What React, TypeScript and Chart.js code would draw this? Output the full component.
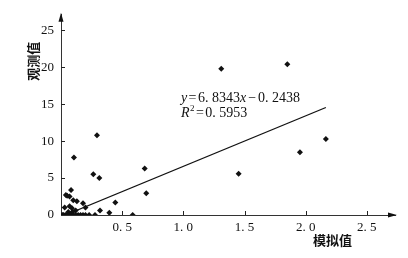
import React, { useEffect, useRef } from "react";
import { Chart, registerables } from "chart.js";

Chart.register(...registerables);

const simX = [
  1.85, 1.31, 2.165, 1.953, 0.684, 0.697, 1.452, 0.106, 0.294, 0.264, 0.313,
  0.444, 0.395, 0.319, 0.278, 0.586, 0.082, 0.05, 0.07, 0.04, 0.1, 0.13, 0.18,
  0.2, 0.03, 0.09, 0.07, 0.095, 0.06, 0.12, 0.01, 0.02, 0.035, 0.05, 0.065,
  0.08, 0.1, 0.12, 0.14, 0.16, 0.18, 0.2, 0.23,
];
const obsY = [
  20.4, 19.8, 10.3, 8.5, 6.3, 2.95, 5.6, 7.8, 10.8, 5.5, 5.0, 1.7, 0.3, 0.6, 0,
  0, 3.4, 2.6, 2.5, 2.7, 2.0, 1.85, 1.6, 1.0, 1.0, 0.9, 1.2, 0.45, 0.4, 0.6, 0,
  0, 0, 0, 0, 0, 0, 0, 0, 0, 0, 0, 0,
];
const slope = 6.8343;
const intercept = -0.2438;
const fitX = [0.036, 2.165];
const xTicks = [0.5, 1.0, 1.5, 2.0, 2.5];
const yTicks = [0, 5, 10, 15, 20, 25];
const xTitle = "模拟值";
const yTitle = "观测值";

const SERIF = "'Liberation Serif', 'DejaVu Serif', serif";
const CJK = "'Noto Sans CJK SC', sans-serif";

export default function App() {
  const ref = useRef<HTMLCanvasElement>(null);
  useEffect(() => {
    const canvas = ref.current!;
    const points = simX.map((x, i) => ({ x, y: obsY[i] }));
    const fit = fitX.map((x) => ({ x, y: slope * x + intercept }));

    const decor = {
      id: "decor",
      afterDraw(chart: any) {
        const { ctx, chartArea: a, scales } = chart;
        const xs = scales.x;
        const ys = scales.y;
        ctx.save();
        ctx.strokeStyle = "#222";
        ctx.fillStyle = "#111";
        ctx.lineWidth = 1;
        // inside ticks
        ctx.beginPath();
        yTicks.forEach((v) => {
          if (v === 0) return;
          const p = Math.round(ys.getPixelForValue(v)) + 0.5;
          ctx.moveTo(a.left, p);
          ctx.lineTo(a.left + 4, p);
        });
        xTicks.forEach((v) => {
          const p = Math.round(xs.getPixelForValue(v)) + 0.5;
          ctx.moveTo(p, a.bottom);
          ctx.lineTo(p, a.bottom - 4);
        });
        ctx.stroke();
        // arrows
        ctx.beginPath();
        ctx.moveTo(a.left, a.top - 2);
        ctx.lineTo(a.left - 2.5, a.top + 7);
        ctx.lineTo(a.left + 2.5, a.top + 7);
        ctx.closePath();
        ctx.fill();
        ctx.beginPath();
        ctx.moveTo(a.right + 2, a.bottom);
        ctx.lineTo(a.right - 7, a.bottom - 2.5);
        ctx.lineTo(a.right - 7, a.bottom + 2.5);
        ctx.closePath();
        ctx.fill();
        // titles
        ctx.fillStyle = "#111";
        ctx.font = `bold 13px ${CJK}`;
        ctx.textAlign = "center";
        ctx.textBaseline = "middle";
        ctx.save();
        ctx.translate(33, ys.getPixelForValue(20.8));
        ctx.rotate(-Math.PI / 2);
        ctx.fillText(yTitle, 0, 0);
        ctx.restore();
        ctx.fillText(xTitle, xs.getPixelForValue(2.22), 240);
        // equation
        ctx.textAlign = "left";
        ctx.textBaseline = "alphabetic";
        const draw = (parts: [string, string, number][], x0: number, base: number) => {
          let cx = x0;
          parts.forEach(([t, f, gap]) => {
            ctx.font = f;
            cx += gap;
            ctx.fillText(t, cx, base);
            cx += ctx.measureText(t).width + gap;
          });
        };
        const reg = `14px ${SERIF}`;
        const ital = `italic 14px ${SERIF}`;
        const x0 = xs.getPixelForValue(0.98);
        draw(
          [
            ["y", ital, 0],
            ["=", reg, 1.5],
            ["6. 8343", reg, 0],
            ["x", ital, 0],
            ["−", reg, 2],
            ["0. 2438", reg, 0],
          ],
          x0,
          102
        );
        let cx = x0;
        ctx.font = ital;
        ctx.fillText("R", cx, 117);
        cx += ctx.measureText("R").width + 0.5;
        ctx.font = `9px ${SERIF}`;
        ctx.fillText("2", cx, 111);
        cx += ctx.measureText("2").width;
        draw(
          [
            ["=", reg, 1.5],
            ["0. 5953", reg, 0],
          ],
          cx,
          117
        );
        ctx.restore();
      },
    };

    const chart = new Chart(canvas, {
      type: "scatter",
      data: {
        datasets: [
          {
            type: "line",
            data: fit,
            borderColor: "#111",
            borderWidth: 1.3,
            pointRadius: 0,
            fill: false,
          } as any,
          {
            data: points,
            pointStyle: "rectRot",
            pointRadius: 3,
            backgroundColor: "#111",
            borderColor: "#111",
            borderWidth: 0,
          },
        ],
      },
      options: {
        animation: false,
        responsive: false,
        layout: { padding: { top: 10, right: 13, left: 0, bottom: 0 } },
        plugins: {
          legend: { display: false },
          tooltip: { enabled: false },
        },
        scales: {
          x: {
            type: "linear",
            min: 0,
            max: 2.73,
            border: { display: true, color: "#333", width: 1 },
            grid: { display: true, drawOnChartArea: false, drawTicks: false },
            afterBuildTicks: (s: any) => {
              s.ticks = xTicks.map((v) => ({ value: v }));
            },
            afterFit: (s: any) => {
              s.height = 43;
            },
            ticks: {
              padding: 5,
              color: "#111",
              font: { family: SERIF, size: 13 },
              callback: (v: any) => Number(v).toFixed(1).replace(".", ". "),
            },
          },
          y: {
            type: "linear",
            min: 0,
            max: 27.1,
            border: { display: true, color: "#333", width: 1 },
            grid: { display: true, drawOnChartArea: false, drawTicks: false },
            afterBuildTicks: (s: any) => {
              s.ticks = yTicks.map((v) => ({ value: v }));
            },
            afterFit: (s: any) => {
              s.width = 61;
            },
            ticks: {
              padding: 7,
              color: "#111",
              font: { family: SERIF, size: 13 },
              callback: (v: any) => String(v),
            },
          },
        },
      },
      plugins: [decor],
    });
    return () => chart.destroy();
  }, []);

  return (
    <div style={{ position: "fixed", left: 0, top: 0, width: 408, height: 258, background: "#fff" }}>
      <canvas ref={ref} width={408} height={258} style={{ display: "block" }} />
    </div>
  );
}
